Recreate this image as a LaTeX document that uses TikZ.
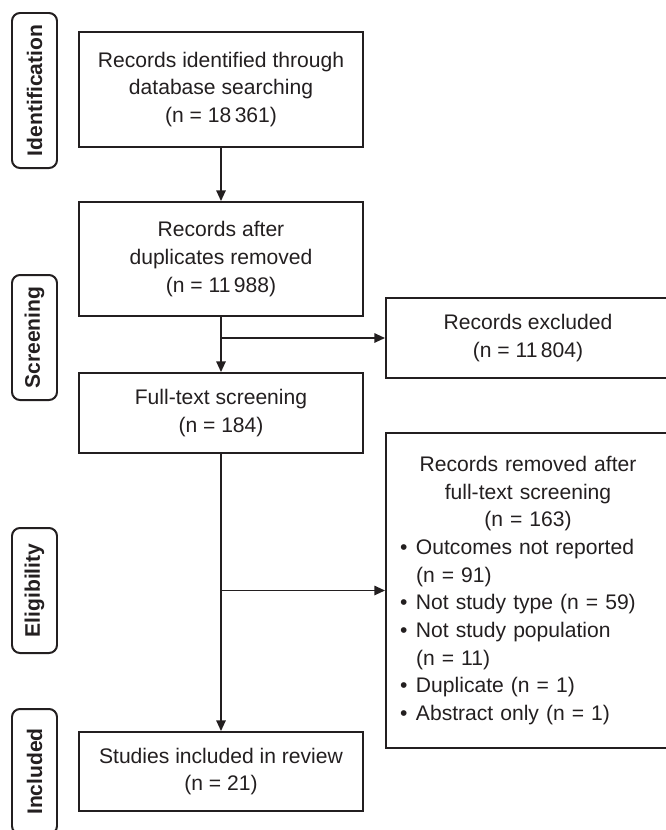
\documentclass[tikz,border=0pt]{standalone}
\usepackage{fontspec}
\setmainfont{Liberation Sans}
\usepackage{tikz}
\usetikzlibrary{arrows.meta}
\newlength{\pxlen}
\setlength{\pxlen}{0.03cm}
\definecolor{ink}{HTML}{231F20}
\tikzset{
 flowbox/.style = {draw=ink, line width=1.7pt, text=ink, align=center,
  minimum width=284\pxlen, inner sep=0pt, font=\fontsize{18}{23.6}\selectfont},
 stagebox/.style = {draw=ink, line width=1.7pt, rounded corners=8\pxlen, rotate=90,
  minimum height=45\pxlen, inner sep=0pt, text=ink, font=\bfseries\fontsize{18}{22}\selectfont},
 flowline/.style = {draw=ink, line width=1.2pt, -{Triangle[length=9pt,width=8pt]}}
}
\newcommand{\stageLabel}[4]{
    \node[stagebox, minimum width=#3\pxlen] (#1) at (34.5, #2) {#4};
}
\newcommand{\branchCB}[2]{
    \draw[flowline] (#1.south |- #2.west) -- (#2.west);
}
\newcommand{\removedItem}[1]{%
 \par\hangindent=16\pxlen\hangafter=1\noindent\makebox[16\pxlen][l]{\textbullet}#1}
\begin{document}
\begin{tikzpicture}[x=0.03cm, y=-0.03cm]
    \useasboundingbox (0,0) rectangle (666,830);
    \clip (0,0) rectangle (666,830);

    \stageLabel{idStage}{90.5}{155}{Identification}
    \stageLabel{scrStage}{337.5}{125}{Screening}
    \stageLabel{eliStage}{590.5}{125}{Eligibility}
    \stageLabel{incStage}{771.5}{125}{Included}

    \node[flowbox, minimum height=115\pxlen] (identified) at (221, 89.5)
        {Records identified through\\database searching\\(n = 18\,361)};
    \node[flowbox, minimum height=114\pxlen] (deduplicated) at (221, 259)
        {Records after\\duplicates removed\\(n = 11\,988)};
    \node[flowbox, minimum height=80\pxlen] (fulltext) at (221, 413)
        {Full-text screening\\(n = 184)};
    \node[flowbox, minimum height=79\pxlen] (included) at (221, 771.5)
        {Studies included in review\\(n = 21)};
    \node[flowbox, minimum height=80\pxlen] (excluded) at (528, 338)
        {Records excluded\\(n = 11\,804)};
    \node[flowbox, minimum height=315\pxlen, text width=256\pxlen, inner xsep=14\pxlen,
        align=left] (removed) at (528, 590.5)
        {{\centering Records removed after\\full-text screening\\(n = 163)\par}
         \removedItem{Outcomes not reported\newline(n = 91)}
         \removedItem{Not study type (n = 59)}
         \removedItem{Not study population\newline(n = 11)}
         \removedItem{Duplicate (n = 1)}
         \removedItem{Abstract only (n = 1)}};

    \draw[flowline] (identified) -- (deduplicated);
    \draw[flowline] (deduplicated) -- (fulltext);
    \draw[flowline] (fulltext) -- (included);
    \branchCB{deduplicated}{excluded}
    \branchCB{fulltext}{removed}
\end{tikzpicture}
\end{document}
